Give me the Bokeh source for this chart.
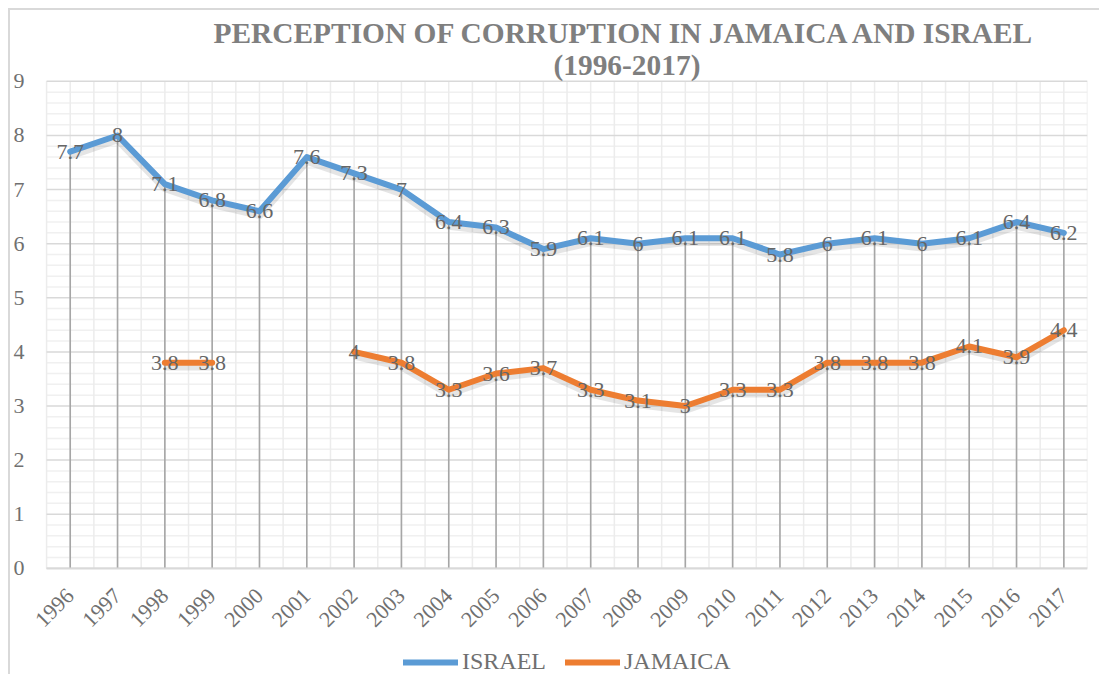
import math
from bokeh.plotting import figure
from bokeh.models import (ColumnDataSource, FixedTicker, Legend, LegendItem, Label)
from bokeh.core.properties import value
from bokeh.embed import file_html
from bokeh.resources import INLINE

years = [str(y) for y in range(1996, 2018)]
israel = [7.7, 8, 7.1, 6.8, 6.6, 7.6, 7.3, 7, 6.4, 6.3, 5.9, 6.1, 6, 6.1, 6.1, 5.8, 6, 6.1, 6, 6.1, 6.4, 6.2]
jamaica = [None, None, 3.8, 3.8, None, None, 4, 3.8, 3.3, 3.6, 3.7, 3.3, 3.1, 3, 3.3, 3.3, 3.8, 3.8, 3.8, 4.1, 3.9, 4.4]
y_ticks = list(range(0, 10))
title_1 = "PERCEPTION OF CORRUPTION IN JAMAICA AND ISRAEL"
title_2 = "(1996-2017)"

BLUE = "#5B9BD5"
ORANGE = "#ED7D31"
SERIF = "Liberation Serif"

n = len(years)
xs = list(range(n))
jam_y = [float("nan") if v is None else v for v in jamaica]
ymax = y_ticks[-1]
x_lo, x_hi = -0.5, n - 0.5

p = figure(width=1091, height=666, output_backend="svg", toolbar_location=None,
           x_range=(-1.22, x_hi), y_range=(-2.0, 10.31),
           min_border_left=2, min_border_right=14, min_border_top=0, min_border_bottom=0)
p.styles = {"margin-left": "8px", "margin-top": "8px",
            "border-left": "2px solid #d9d9d9", "border-top": "2px solid #d9d9d9"}
p.outline_line_color = None
p.background_fill_color = "white"
p.border_fill_color = "white"
p.xgrid.visible = False
p.ygrid.visible = False

# grid lines, limited to the plot area of the value/category ranges
minor_y = [i * 0.2 for i in range(5 * ymax + 1) if i % 5 != 0]
p.segment(x0=[x_lo] * len(minor_y), y0=minor_y, x1=[x_hi] * len(minor_y), y1=minor_y,
          line_color="#f0f0f0", line_width=1.5)
gx = [i * 0.5 + x_lo for i in range(2 * n + 1)]
p.segment(x0=gx, y0=[0] * len(gx), x1=gx, y1=[ymax] * len(gx), line_color="#ececec", line_width=1.5)
p.segment(x0=[x_lo] * len(y_ticks), y0=y_ticks, x1=[x_hi] * len(y_ticks), y1=y_ticks,
          line_color="#d9d9d9", line_width=1.5)

# axes
p.xaxis.fixed_location = 0
p.xaxis.bounds = (x_lo, x_hi)
p.xaxis.ticker = FixedTicker(ticks=xs)
p.xaxis.major_label_overrides = {i: y for i, y in zip(xs, years)}
p.xaxis.major_label_orientation = math.pi / 4
p.xaxis.axis_line_color = "#d9d9d9"
p.xaxis.axis_line_width = 2
p.xaxis.major_tick_line_color = None
p.xaxis.minor_tick_line_color = None
p.xaxis.major_label_text_font = SERIF
p.xaxis.major_label_text_font_size = "22px"
p.xaxis.major_label_text_color = "#707070"
p.xaxis.major_label_standoff = 18

p.yaxis.fixed_location = x_lo
p.yaxis.bounds = (0, ymax)
p.yaxis.ticker = FixedTicker(ticks=y_ticks)
p.yaxis.axis_line_color = None
p.yaxis.major_tick_line_color = None
p.yaxis.minor_tick_line_color = None
p.yaxis.major_label_text_font = SERIF
p.yaxis.major_label_text_font_size = "22px"
p.yaxis.major_label_text_color = "#707070"
p.yaxis.major_label_standoff = 16

# drop lines
p.segment(x0=xs, y0=[0] * n, x1=xs, y1=israel, line_color="#a6a6a6", line_width=1.6)

# shadows
p.line(xs, [v - 0.06 for v in israel], line_color="#000000", line_alpha=0.10, line_width=9, line_join="round")
p.line(xs, [v - 0.06 for v in jam_y], line_color="#000000", line_alpha=0.10, line_width=9, line_join="round")

r_is = p.line(xs, israel, line_color=BLUE, line_width=6, line_join="round", line_cap="round")
r_ja = p.line(xs, jam_y, line_color=ORANGE, line_width=6, line_join="round", line_cap="round")

# data labels
src_i = ColumnDataSource(dict(x=xs, y=israel, t=[f"{v:g}" for v in israel]))
p.text(x="x", y="y", text="t", source=src_i, text_align="center", text_baseline="middle",
       text_font=value(SERIF), text_font_size="22px", text_color="#666666")
jx = [x for x, v in zip(xs, jamaica) if v is not None]
jy = [v for v in jamaica if v is not None]
src_j = ColumnDataSource(dict(x=jx, y=jy, t=[f"{v:g}" for v in jy]))
p.text(x="x", y="y", text="t", source=src_j, text_align="center", text_baseline="middle",
       text_font=value(SERIF), text_font_size="22px", text_color="#666666")

# title (two lines), placed in screen units
for txt, sx, sy in [(title_1, 201, 644), (title_2, 541, 612)]:
    p.add_layout(Label(x=sx, y=sy, x_units="screen", y_units="screen", text=txt,
                       text_font=SERIF, text_font_size="29.4px", text_font_style="bold",
                       text_color="#7f7f7f", text_baseline="alphabetic", text_align="left"))

legend = Legend(items=[LegendItem(label="ISRAEL", renderers=[r_is]),
                       LegendItem(label="JAMAICA", renderers=[r_ja])],
                orientation="horizontal", location=(391, 1),
                glyph_width=55, glyph_height=20, label_standoff=4, spacing=19,
                padding=0, margin=0, border_line_color=None, background_fill_alpha=0,
                label_text_font=SERIF, label_text_font_size="24px", label_text_color="#707070")
p.add_layout(legend, "center")

open("out.html", "w").write(file_html(p, INLINE))
